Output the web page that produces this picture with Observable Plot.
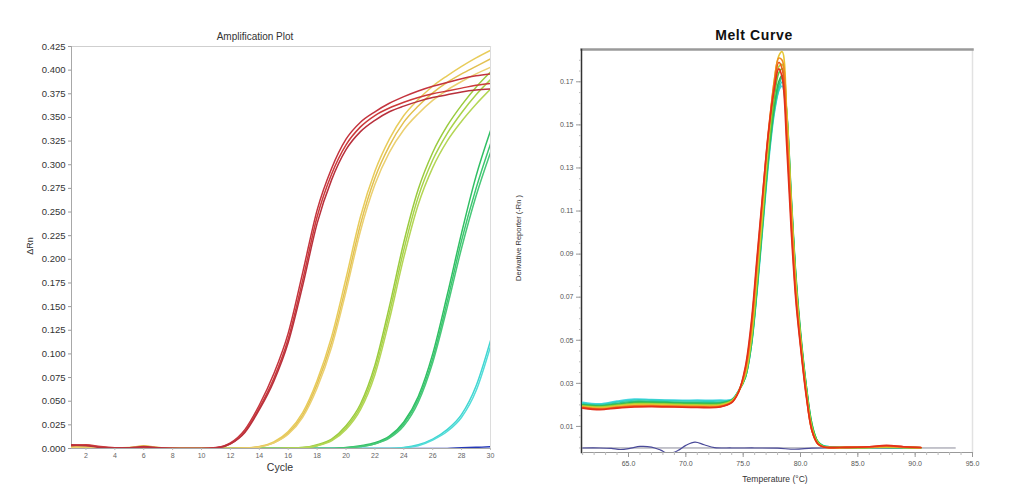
<!DOCTYPE html>
<html>
<head>
<meta charset="utf-8">
<script src="https://cdn.jsdelivr.net/npm/d3@7"></script>
<script src="https://cdn.jsdelivr.net/npm/@observablehq/plot@0.6"></script>
<style>
  html, body { margin: 0; padding: 0; background: #fff; }
  body { width: 1021px; height: 498px; position: relative; overflow: hidden; font-family: "Liberation Sans", Arial, sans-serif; }
  .lbl { position: absolute; transform: translate(-50%, -50%); white-space: nowrap; color: #222; }
  .rot { transform: translate(-50%, -50%) rotate(-90deg); }
  #amp, #melt { position: absolute; top: 0; }
  #amp { left: 0; }
  #melt { left: 500px; }
</style>
</head>
<body>
<div id="amp"></div>
<div id="melt"></div>
<div class="lbl" style="left:255px;top:36px;font-size:10px;color:#333;">Amplification Plot</div>
<div class="lbl rot" style="left:30px;top:246px;font-size:9px;color:#333;">ΔRn</div>
<div class="lbl" style="left:280px;top:467px;font-size:10.5px;color:#333;">Cycle</div>
<div class="lbl" style="left:754px;top:35px;font-size:14px;font-weight:bold;letter-spacing:0.6px;color:#111;">Melt Curve</div>
<div class="lbl rot" style="left:518px;top:238px;font-size:7.5px;color:#333;">Derivative Reporter (-Rn )</div>
<div class="lbl" style="left:775px;top:479px;font-size:8.5px;color:#333;">Temperature (°C)</div>
<script>
// ---------- Amplification plot data ----------
const cycles = [1,2,3,4,5,6,7,8,9,10,11,12,13,14,15,16,17,18,19,20,21,22,23,24,25,26,27,28,29,30];
const ampYTicks = [0,0.025,0.05,0.075,0.1,0.125,0.15,0.175,0.2,0.225,0.25,0.275,0.3,0.325,0.35,0.375,0.4,0.425];
const ampXTicks = [2,4,6,8,10,12,14,16,18,20,22,24,26,28,30];

const blueNTC  = [0,0,0,0,0,0,0,0,0,0,0,0,0,0,0,0,0,0,0,0,0,0,0,0,0,0,0,0.0008,0.0012,0.002];
const cyanA    = [0,0,0,0,0,0,0,0,0,0,0,0,0,0,0,0,0,0,0,0,0,0,0,0.001,0.004,0.01,0.02,0.036,0.066,0.114];
const cyanB    = [0,0,0,0,0,0,0,0,0,0,0,0,0,0,0,0,0,0,0,0,0,0,0,0.0008,0.003,0.009,0.018,0.033,0.061,0.108];
const greenA   = [0.0005,0.0005,0.0002,0,0,0.0005,0.0002,0,0,0,0,0,0,0,0,0,0,0,0,0.001,0.003,0.006,0.013,0.028,0.055,0.1,0.162,0.228,0.288,0.336];
const greenB   = [0.0004,0.0004,0.0002,0,0,0.0004,0.0002,0,0,0,0,0,0,0,0,0,0,0,0,0.0008,0.002,0.005,0.012,0.026,0.052,0.095,0.155,0.22,0.275,0.322];
const greenC   = [0.0003,0.0003,0.0001,0,0,0.0003,0.0001,0,0,0,0,0,0,0,0,0,0,0,0,0.0005,0.002,0.005,0.011,0.024,0.049,0.091,0.149,0.212,0.267,0.313];
const ygA      = [0.001,0.001,0.0005,0,0.0003,0.0012,0.0005,0,0,0,0,0,0,0,0,0.0005,0.001,0.004,0.01,0.024,0.047,0.088,0.15,0.218,0.274,0.313,0.341,0.363,0.382,0.398];
const ygB      = [0.0008,0.001,0.0004,0,0.0002,0.001,0.0004,0,0,0,0,0,0,0,0,0.0004,0.001,0.003,0.009,0.022,0.044,0.083,0.143,0.21,0.266,0.305,0.333,0.355,0.374,0.39];
const ygC      = [0.0006,0.0008,0.0003,0,0.0002,0.0008,0.0003,0,0,0,0,0,0,0,0,0.0003,0.0008,0.003,0.008,0.02,0.041,0.078,0.136,0.202,0.258,0.297,0.325,0.346,0.364,0.38];
const yellowA  = [0.002,0.0025,0.001,0.0005,0.001,0.003,0.001,0,0,0,0,0,0.0005,0.002,0.007,0.018,0.038,0.072,0.118,0.18,0.245,0.293,0.327,0.352,0.369,0.383,0.394,0.404,0.413,0.421];
const yellowB  = [0.0015,0.002,0.001,0.0003,0.0008,0.0025,0.001,0.0002,0,0,0,0,0.0004,0.0018,0.006,0.016,0.035,0.068,0.112,0.172,0.237,0.286,0.32,0.345,0.362,0.376,0.387,0.396,0.404,0.412];
const yellowC  = [0.001,0.0015,0.0008,0.0003,0.0006,0.002,0.0008,0,0,0,0,0,0.0003,0.0015,0.006,0.015,0.033,0.064,0.107,0.166,0.23,0.279,0.313,0.337,0.354,0.368,0.379,0.388,0.396,0.403];
const redA     = [0.004,0.0035,0.0015,0.0005,0.0005,0.0015,0.0005,0,0,0,0.001,0.006,0.02,0.046,0.079,0.122,0.186,0.252,0.296,0.327,0.345,0.356,0.365,0.372,0.378,0.383,0.387,0.391,0.394,0.396];
const redB     = [0.003,0.004,0.002,0.0008,0.0005,0.001,0.0005,0,0,0,0.0008,0.005,0.018,0.043,0.074,0.116,0.178,0.245,0.29,0.321,0.34,0.352,0.36,0.366,0.371,0.375,0.378,0.381,0.384,0.386];
const redC     = [0.0035,0.003,0.001,0.0005,0.0008,0.002,0.0008,0.0002,0,0,0.0006,0.005,0.017,0.041,0.071,0.112,0.172,0.238,0.284,0.316,0.335,0.347,0.356,0.362,0.367,0.371,0.374,0.377,0.379,0.38];

const ampSeries = [
  ["blueNTC", blueNTC, "#2438b8"],
  ["cyanA", cyanA, "#3fd6d2"], ["cyanB", cyanB, "#52dcd8"],
  ["greenA", greenA, "#2fbf63"], ["greenB", greenB, "#3cc670"], ["greenC", greenC, "#48c878"],
  ["ygA", ygA, "#9acb3e"], ["ygB", ygB, "#a8d24a"], ["ygC", ygC, "#b4d656"],
  ["yellowA", yellowA, "#e8cc5a"], ["yellowB", yellowB, "#e2c050"], ["yellowC", yellowC, "#ebd070"],
  ["redA", redA, "#c4343e"], ["redB", redB, "#cc3a3a"], ["redC", redC, "#b8303c"]
];
const ampRows = ampSeries.flatMap(([name, vals]) => vals.map((v, i) => ({series: name, cycle: cycles[i], value: v})));
const ampColors = Object.fromEntries(ampSeries.map(([n, , c]) => [n, c]));

// ---------- Melt curve data ----------
const meltT = [61,62.5,64,65.5,67,69,71,73,74,74.6,75.2,75.7,76.2,76.7,77.2,77.7,78.1,78.4,78.8,79.2,79.6,80,80.5,81,81.5,82,84,86,87.5,89,90.5];
const meltYTicks = [0.01,0.03,0.05,0.07,0.09,0.11,0.13,0.15,0.17];
const meltYMinor = [0,0.005,0.01,0.015,0.02,0.025,0.03,0.035,0.04,0.045,0.05,0.055,0.06,0.065,0.07,0.075,0.08,0.085,0.09,0.095,0.1,0.105,0.11,0.115,0.12,0.125,0.13,0.135,0.14,0.145,0.15,0.155,0.16,0.165,0.17,0.175,0.18];
const meltXTicks = [65,70,75,80,85,90,95];
const meltXMinor = [61,62,63,64,65,66,67,68,69,70,71,72,73,74,75,76,77,78,79,80,81,82,83,84,85,86,87,88,89,90,91,92,93,94,95];

const m1  = [0.0185,0.0178,0.0185,0.019,0.0192,0.019,0.0188,0.019,0.021, 0.026,0.038,0.058,0.088,0.118,0.146,0.166,0.176,0.172,0.14,0.1,0.068,0.047,0.024,0.008,0.002,0.0005, 0.0003,0.0006,0.0012,0.0006,0.0002];
const m2  = [0.0188,0.018,0.0188,0.0193,0.0194,0.0192,0.019,0.0192,0.0212, 0.026,0.037,0.056,0.086,0.117,0.147,0.168,0.179,0.176,0.145,0.104,0.07,0.048,0.025,0.008,0.002,0.0005, 0.0003,0.0005,0.001,0.0005,0.0002];
const m3  = [0.019,0.0183,0.019,0.0196,0.0197,0.0195,0.0193,0.0195,0.0214, 0.0262,0.036,0.054,0.084,0.115,0.146,0.17,0.181,0.18,0.15,0.108,0.072,0.049,0.025,0.008,0.002,0.0005, 0.0003,0.0004,0.0008,0.0004,0.0002];
const m4  = [0.0192,0.0186,0.0193,0.02,0.02,0.0198,0.0196,0.0197,0.0215, 0.0262,0.035,0.052,0.081,0.112,0.144,0.17,0.182,0.184,0.156,0.112,0.075,0.05,0.026,0.009,0.002,0.0005, 0.0002,0.0003,0.0006,0.0003,0.0001];
const m5  = [0.0195,0.019,0.0197,0.0205,0.0205,0.0202,0.02,0.0201,0.0218, 0.0262,0.034,0.05,0.078,0.109,0.141,0.166,0.177,0.178,0.154,0.112,0.076,0.051,0.027,0.009,0.0025,0.0006, 0.0002,0.0003,0.0005,0.0003,0.0001];
const m6  = [0.0197,0.0192,0.02,0.0208,0.0208,0.0205,0.0203,0.0204,0.022, 0.0263,0.034,0.049,0.076,0.107,0.138,0.162,0.174,0.176,0.155,0.114,0.078,0.052,0.028,0.01,0.003,0.0008, 0.0002,0.0003,0.0004,0.0002,0.0001];
const m7  = [0.02,0.0195,0.0203,0.0212,0.0212,0.0209,0.0207,0.0208,0.0222, 0.0263,0.033,0.048,0.074,0.105,0.135,0.158,0.17,0.173,0.156,0.116,0.08,0.054,0.029,0.011,0.003,0.0008, 0.0002,0.0002,0.0003,0.0002,0.0001];
const m8  = [0.0203,0.0198,0.0208,0.0217,0.0216,0.0213,0.0212,0.0212,0.0223, 0.0264,0.033,0.047,0.073,0.104,0.134,0.157,0.168,0.172,0.155,0.115,0.079,0.053,0.029,0.011,0.003,0.0008, 0.0002,0.0002,0.0003,0.0002,0.0001];
const m9  = [0.0208,0.0202,0.0214,0.0223,0.0222,0.0219,0.0218,0.0218,0.0224, 0.0265,0.033,0.047,0.072,0.102,0.132,0.155,0.166,0.17,0.152,0.112,0.078,0.052,0.028,0.01,0.003,0.001, 0.0003,0.0003,0.0004,0.0002,0.0001];
const m10 = [0.0212,0.0205,0.0218,0.0227,0.0225,0.0222,0.0222,0.0222,0.0225, 0.0266,0.034,0.048,0.074,0.104,0.134,0.156,0.166,0.168,0.15,0.11,0.077,0.052,0.028,0.01,0.003,0.001, 0.0003,0.0003,0.0004,0.0002,0.0001];

const ntcT = [61,62.5,63.5,64.3,65.2,66,67,67.8,68.5,69.3,70,70.8,71.6,72.5,74,76,78,79.5,81,83,86,90];
const ntcV = [0,0,-0.0002,-0.0007,-0.0001,0.0007,0.0004,-0.001,-0.0026,-0.0012,0.0012,0.0027,0.0015,0.0002,0,0,-0.0001,-0.0006,-0.0001,0.0001,0.0001,0];
const zeroT = [61,93.5];
const zeroV = [0,0];

const meltSeries = [
  ["m10", m10, "#48d6e2"], ["m9", m9, "#30d0c6"], ["m8", m8, "#2cc88e"], ["m7", m7, "#2eb65a"],
  ["m6", m6, "#5cc83c"], ["m5", m5, "#b0d234"], ["m4", m4, "#e6c634"], ["m3", m3, "#f08c20"],
  ["m2", m2, "#ee5a1c"], ["m1", m1, "#e3301a"]
];
const meltRows = meltSeries.flatMap(([name, vals]) => vals.map((v, i) => ({series: name, t: meltT[i], value: v})));
const meltColors = Object.fromEntries(meltSeries.map(([n, , c]) => [n, c]));
const ntcRows = ntcT.map((t, i) => ({t, value: ntcV[i]}));
const zeroRows = zeroT.map((t, i) => ({t, value: zeroV[i]}));

// ---------- Amplification plot ----------
const amp = Plot.plot({
  width: 500, height: 480,
  marginLeft: 71, marginRight: 10, marginTop: 46, marginBottom: 32,
  style: {fontFamily: "'Liberation Sans', Arial, sans-serif", background: "transparent"},
  x: {domain: [1, 30]},
  y: {domain: [0, 0.425]},
  marks: [
    Plot.frame({anchor: "top", stroke: "#cfcfcf", strokeWidth: 1.2}),
    Plot.frame({anchor: "right", stroke: "#dcdcdc"}),
    Plot.frame({anchor: "left", stroke: "#a8a8a8"}),
    Plot.frame({anchor: "bottom", stroke: "#a8a8a8"}),
    Plot.axisY({ticks: ampYTicks, tickFormat: d3.format(".3f"), tickSize: 3, tickPadding: 3, fontSize: 9.5, stroke: "#999", fill: "#333", label: null}),
    Plot.axisX({ticks: ampXTicks, tickFormat: d3.format("d"), tickSize: 2, tickPadding: 3, fontSize: 7, stroke: "#bbb", fill: "#666", label: null}),
    Plot.line(ampRows, {x: "cycle", y: "value", z: "series", stroke: d => ampColors[d.series], strokeWidth: 1.5, curve: "monotone-x", clip: true})
  ]
});
document.getElementById("amp").appendChild(amp);

// ---------- Melt curve plot ----------
const melt = Plot.plot({
  width: 521, height: 498,
  marginLeft: 81, marginRight: 49, marginTop: 49, marginBottom: 46,
  style: {fontFamily: "'Liberation Sans', Arial, sans-serif", background: "transparent"},
  x: {domain: [60.9, 95]},
  y: {domain: [-0.0021, 0.185]},
  marks: [
    Plot.frame({anchor: "right", stroke: "#e2e2e2", strokeWidth: 1.5}),
    Plot.frame({anchor: "top", stroke: "#9a9a9a", strokeWidth: 2.5}),
    Plot.frame({anchor: "bottom", stroke: "#999"}),
    Plot.frame({anchor: "left", stroke: "#333", strokeWidth: 1.5}),
    Plot.axisY({ticks: meltYMinor, tickFormat: () => "", tickSize: 2, stroke: "#bbb", label: null}),
    Plot.axisY({ticks: meltYTicks, tickFormat: d3.format(".2f"), tickSize: 5, tickPadding: 3, fontSize: 7, stroke: "#999", fill: "#555", label: null}),
    Plot.axisX({ticks: meltXMinor, tickFormat: () => "", tickSize: 3, stroke: "#bbb", label: null}),
    Plot.axisX({ticks: meltXTicks, tickFormat: d3.format(".1f"), tickSize: 5, tickPadding: 4, fontSize: 7, stroke: "#999", fill: "#555", label: null}),
    Plot.line(zeroRows, {x: "t", y: "value", stroke: "#8a8a9a", strokeWidth: 1}),
    Plot.line(ntcRows, {x: "t", y: "value", stroke: "#4a4a9a", strokeWidth: 1.2, curve: "catmull-rom", clip: true}),
    Plot.line(meltRows, {x: "t", y: "value", z: "series", stroke: d => meltColors[d.series], strokeWidth: 1.6, curve: "catmull-rom", clip: true})
  ]
});
document.getElementById("melt").appendChild(melt);
</script>
</body>
</html>
